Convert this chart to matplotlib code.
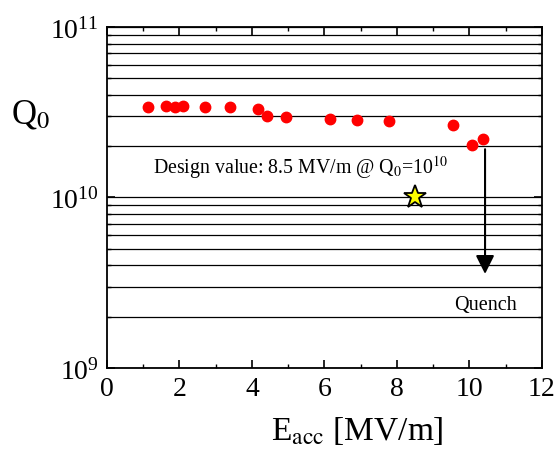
import matplotlib.pyplot as plt
from matplotlib.ticker import LogLocator, MultipleLocator, NullFormatter

plt.rcParams['font.family'] = ['Liberation Serif', 'DejaVu Serif']
plt.rcParams['mathtext.fontset'] = 'stix'

# measured points
e_acc = [1.12, 1.63, 1.87, 2.11, 2.71, 3.40, 4.16, 4.41, 4.95, 6.15, 6.90, 7.78, 9.55, 10.08, 10.38]
q0 = [3.40e10, 3.43e10, 3.40e10, 3.43e10, 3.40e10, 3.40e10, 3.30e10, 3.02e10, 2.97e10,
      2.89e10, 2.84e10, 2.81e10, 2.66e10, 2.03e10, 2.20e10]

# design goal
design_e = 8.5
design_q = 1.0e10

# quench arrow
quench_e = 10.43
quench_from = 1.92e10
quench_to = 3.56e9

fig = plt.figure(figsize=(5.57, 4.60), dpi=100)
ax = fig.add_axes([0.192, 0.198, 0.781, 0.741])

ax.set_yscale('log')
ax.set_xlim(0, 12)
ax.set_ylim(1e9, 1e11)

# horizontal lines at every minor/major decade step
ax.yaxis.set_major_locator(LogLocator(base=10, numticks=5))
ax.yaxis.set_minor_locator(LogLocator(base=10, subs=range(2, 10), numticks=20))
ax.yaxis.set_minor_formatter(NullFormatter())
ax.grid(True, which='both', axis='y', color='black', linewidth=0.9)
ax.set_axisbelow(True)

ax.xaxis.set_major_locator(MultipleLocator(2))
ax.xaxis.set_minor_locator(MultipleLocator(1))
ax.tick_params(which='both', direction='in', top=True, right=True, labelsize=20, pad=6)
ax.tick_params(which='major', length=6, width=1.2)
ax.tick_params(which='minor', length=3, width=1.0)
for s in ax.spines.values():
    s.set_linewidth(1.3)

ax.plot(e_acc, q0, 'o', color='red', markersize=7.5, zorder=3)
ax.plot(design_e, design_q, '*', markersize=17, markerfacecolor='yellow',
        markeredgecolor='black', markeredgewidth=1.3, zorder=4)

ax.annotate('', xy=(quench_e, quench_to), xytext=(quench_e, quench_from),
            arrowprops=dict(arrowstyle='-|>', color='black', lw=1.5,
                            mutation_scale=28, shrinkA=0, shrinkB=0))

ax.text(1.26, 1.51e10, r'Design value: 8.5 MV/m @ Q$_0$=10$^{10}$', fontsize=14.3,
        va='center', ha='left')
ax.text(10.43, 2.37e9, 'Quench', fontsize=14.5, va='center', ha='center')

fig.text(0.055, 0.75, r'Q$_0$', fontsize=25, ha='center', va='center')
fig.text(0.641, 0.063, r'E$_{\mathrm{acc}}$ [MV/m]', fontsize=24, ha='center', va='center')

fig.savefig('out.png', dpi=100)
